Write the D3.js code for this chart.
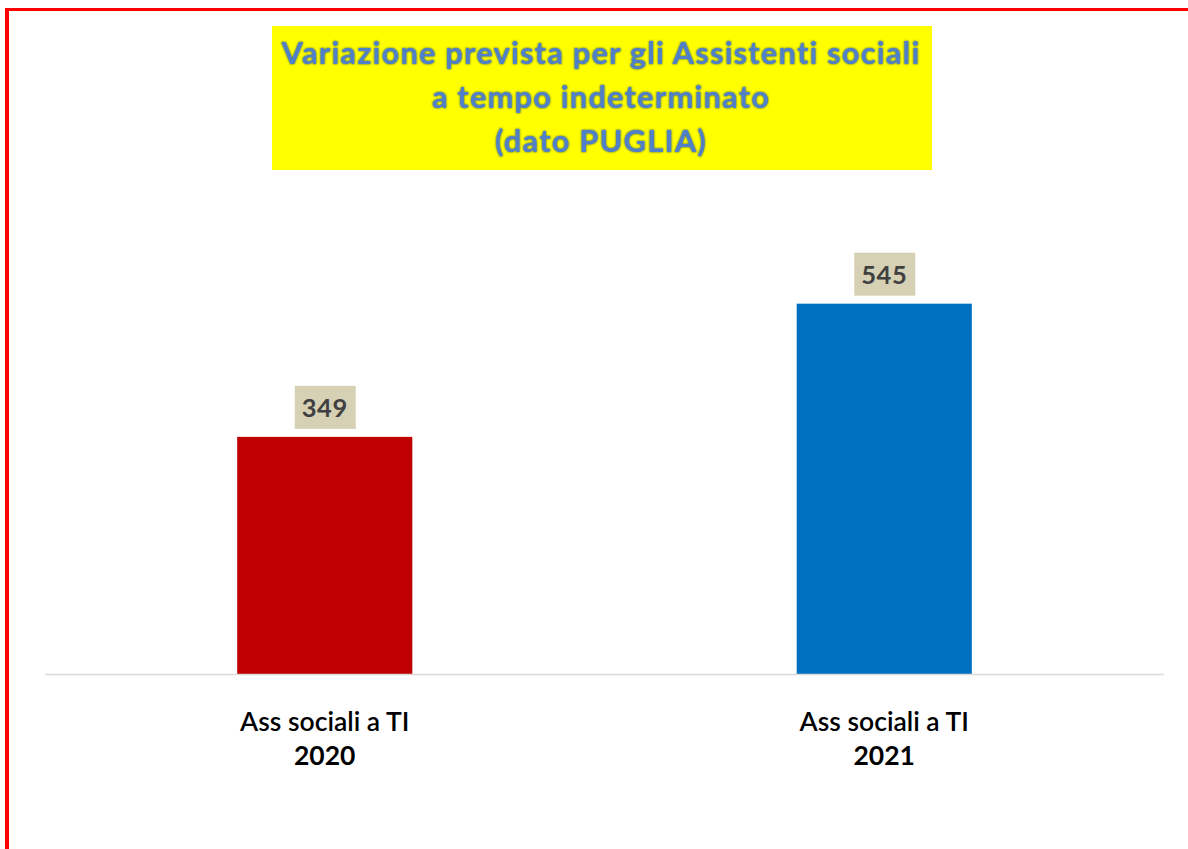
<!DOCTYPE html>
<html>
<head>
<meta charset="utf-8">
<script src="https://cdn.jsdelivr.net/npm/d3@7"></script>
<style>
  html, body { margin: 0; padding: 0; background: #ffffff; }
  svg { display: block; }
</style>
</head>
<body>
<svg id="chart" width="1188" height="849"></svg>
<script>
// Chart data
const categories = ["Ass sociali a TI|2020", "Ass sociali a TI|2021"];
const values = [349, 545];
const barColors = ["#C00000", "#0070C0"];
const titleLines = [
  "Variazione prevista per gli Assistenti sociali",
  "a tempo indeterminato",
  "(dato PUGLIA)"
];

const W = 1188, H = 849;
const svg = d3.select("#chart");

// Frame: red rule along the top and left edges
svg.append("rect").attr("x", 5).attr("y", 8).attr("width", W - 5).attr("height", 3).attr("fill", "#FF0000");
svg.append("rect").attr("x", 5).attr("y", 8).attr("width", 4).attr("height", H - 8).attr("fill", "#FF0000");

// Plot geometry
const plot = { left: 45, right: 1164, base: 674 };

const x = d3.scaleBand()
  .domain(categories)
  .range([plot.left, plot.right])
  .padding(0);

const y = d3.scaleLinear()
  .domain([0, 600])
  .range([plot.base, plot.base - 600 * 0.6795]);

const barW = x.bandwidth() * 0.313;

// Bars
svg.append("g").selectAll("rect")
  .data(values)
  .join("rect")
  .attr("x", (d, i) => x(categories[i]) + x.bandwidth() / 2 - barW / 2)
  .attr("y", d => y(d))
  .attr("width", barW)
  .attr("height", d => y(0) - y(d))
  .attr("fill", (d, i) => barColors[i]);

// Category axis line
svg.append("line")
  .attr("x1", plot.left).attr("x2", plot.right)
  .attr("y1", plot.base + 0.5).attr("y2", plot.base + 0.5)
  .attr("stroke", "#D9D9D9").attr("stroke-width", 1.6);

// Value labels in tan boxes
const lbl = svg.append("g").selectAll("g")
  .data(values)
  .join("g")
  .attr("transform", (d, i) => `translate(${x(categories[i]) + x.bandwidth() / 2},${y(d) - 8})`);
lbl.append("rect")
  .attr("x", -30).attr("y", -43).attr("width", 61).attr("height", 43)
  .attr("fill", "#D6D1B5");
lbl.append("text")
  .attr("x", 0).attr("y", -12)
  .attr("text-anchor", "middle")
  .attr("font-family", "Lato, 'Open Sans', sans-serif")
  .attr("font-weight", 700)
  .attr("font-size", 25.5)
  .attr("letter-spacing", 0.6)
  .attr("fill", "#404040")
  .text(d => d3.format("d")(d));

// Category labels (two lines each)
const cat = svg.append("g").selectAll("text")
  .data(categories)
  .join("text")
  .attr("text-anchor", "middle")
  .attr("font-family", "Lato, 'Open Sans', sans-serif")
  .attr("font-size", 26.5)
  .attr("fill", "#000000");
cat.each(function(d) {
  const parts = d.split("|");
  const t = d3.select(this);
  const cx = x(d) + x.bandwidth() / 2;
  t.append("tspan").attr("x", cx).attr("y", 731).attr("font-weight", 600).text(parts[0]);
  t.append("tspan").attr("x", cx).attr("y", 765).attr("font-weight", 700).text(parts[1]);
});

// Title block
const defs = svg.append("defs");
const f = defs.append("filter").attr("id", "titleShadow")
  .attr("x", "-5%").attr("y", "-20%").attr("width", "110%").attr("height", "140%");
f.append("feGaussianBlur").attr("in", "SourceAlpha").attr("stdDeviation", 1.1).attr("result", "blur");
f.append("feFlood").attr("flood-color", "#1F3A66").attr("flood-opacity", 0.9);
f.append("feComposite").attr("in2", "blur").attr("operator", "in").attr("result", "shadow");
f.append("feGaussianBlur").attr("in", "SourceGraphic").attr("stdDeviation", 0.45).attr("result", "soft");
const fm = f.append("feMerge");
fm.append("feMergeNode").attr("in", "shadow");
fm.append("feMergeNode").attr("in", "soft");

svg.append("rect")
  .attr("x", 272).attr("y", 26).attr("width", 660).attr("height", 144)
  .attr("fill", "#FFFF00");

const title = svg.append("text")
  .attr("text-anchor", "middle")
  .attr("font-family", "Lato, 'Open Sans', sans-serif")
  .attr("font-weight", 700)
  .attr("font-size", 31)
  .attr("letter-spacing", 1.1)
  .attr("fill", "#5080C8")
  .attr("filter", "url(#titleShadow)");
title.selectAll("tspan")
  .data(titleLines)
  .join("tspan")
  .attr("x", 601)
  .attr("y", (d, i) => 64 + i * 44)
  .text(d => d);
</script>
</body>
</html>
